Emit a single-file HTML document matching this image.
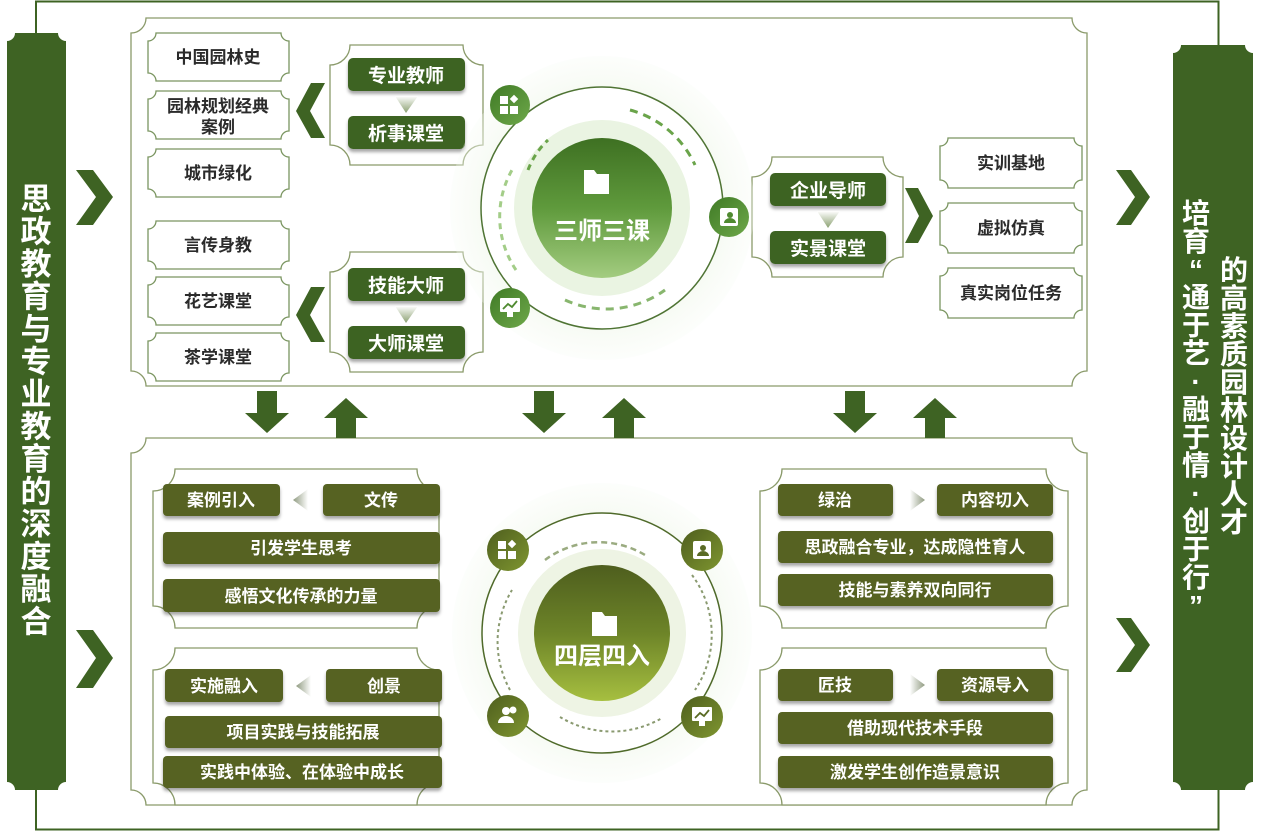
<!DOCTYPE html>
<html><head><meta charset="utf-8"><style>
html,body{margin:0;padding:0;background:#fff;}
svg{display:block;}
text{font-family:"Liberation Sans","Noto Sans CJK SC",sans-serif;font-weight:bold;}
.w{fill:#fff;font-size:17px;text-anchor:middle;}
.wl{fill:#fff;font-size:19px;text-anchor:middle;}
.d{fill:#2b2b2b;font-size:17px;text-anchor:middle;}
.bx{fill:#fff;stroke:#7a9560;stroke-width:1.3;}
.gp{fill:#fff;stroke:#8a9a6a;stroke-width:1.3;}
.pg{fill:#3e6323;}
.po{fill:#566223;}
</style></head><body>
<svg width="1264" height="831" viewBox="0 0 1264 831" xmlns="http://www.w3.org/2000/svg">
<defs>
<radialGradient id="glow" cx="0.5" cy="0.5" r="0.5"><stop offset="0.6" stop-color="#eef6e8"/><stop offset="1" stop-color="#f7fbf4" stop-opacity="0.3"/></radialGradient>
<linearGradient id="cg" x1="0" y1="0" x2="0" y2="1"><stop offset="0" stop-color="#3e7022"/><stop offset="0.5" stop-color="#5f9a3c"/><stop offset="1" stop-color="#a3cc80"/></linearGradient>
<linearGradient id="co" x1="0" y1="0" x2="0" y2="1"><stop offset="0" stop-color="#4e5e1e"/><stop offset="0.5" stop-color="#6d8428"/><stop offset="1" stop-color="#a6bf40"/></linearGradient>
<linearGradient id="ig" x1="0" y1="0" x2="1" y2="1"><stop offset="0" stop-color="#3f7a25"/><stop offset="1" stop-color="#6ea84a"/></linearGradient>
<linearGradient id="io" x1="0" y1="0" x2="1" y2="1"><stop offset="0" stop-color="#4e5e1e"/><stop offset="1" stop-color="#7f9630"/></linearGradient>
<linearGradient id="tri" x1="0" y1="0" x2="0" y2="1"><stop offset="0" stop-color="#fff"/><stop offset="1" stop-color="#8aa070"/></linearGradient>
<linearGradient id="trh" x1="0" y1="0" x2="1" y2="0"><stop offset="0" stop-color="#fff"/><stop offset="1" stop-color="#8f9a80"/></linearGradient>
<linearGradient id="trhl" x1="1" y1="0" x2="0" y2="0"><stop offset="0" stop-color="#fff"/><stop offset="1" stop-color="#8f9a80"/></linearGradient>
<filter id="sh" x="-10%" y="-20%" width="120%" height="150%"><feDropShadow dx="0" dy="3" stdDeviation="1.5" flood-color="#000" flood-opacity="0.35"/></filter>
</defs>

<path d="M36 34 V1.5 H1218.5 V829.5 H36 V790" fill="none" stroke="#3e6323" stroke-width="2"/>

<path d="M15 33 H58 A8 8 0 0 0 66 41 V782 A8 8 0 0 0 58 790 H15 A8 8 0 0 0 7 782 V41 A8 8 0 0 0 15 33Z" fill="#3e6323"/>
<text x="36" y="210" fill="#fff" font-size="31" text-anchor="middle">
<tspan x="36" dy="0">思</tspan><tspan x="36" dy="32.5">政</tspan><tspan x="36" dy="32.5">教</tspan><tspan x="36" dy="32.5">育</tspan><tspan x="36" dy="32.5">与</tspan><tspan x="36" dy="32.5">专</tspan><tspan x="36" dy="32.5">业</tspan><tspan x="36" dy="32.5">教</tspan><tspan x="36" dy="32.5">育</tspan><tspan x="36" dy="32.5">的</tspan><tspan x="36" dy="32.5">深</tspan><tspan x="36" dy="32.5">度</tspan><tspan x="36" dy="32.5">融</tspan><tspan x="36" dy="32.5">合</tspan></text>

<path d="M1181 45 H1245 A8 8 0 0 0 1253 53 V782 A8 8 0 0 0 1245 790 H1181 A8 8 0 0 0 1173 782 V53 A8 8 0 0 0 1181 45Z" fill="#3e6323"/>
<text fill="#fff" font-size="28" text-anchor="middle">
<tspan x="1196" y="223">培</tspan><tspan x="1196" dy="28">育</tspan><tspan x="1196" dy="28">“</tspan><tspan x="1196" dy="28">通</tspan><tspan x="1196" dy="28">于</tspan><tspan x="1196" dy="28">艺</tspan><tspan x="1196" dy="28">·</tspan><tspan x="1196" dy="28">融</tspan><tspan x="1196" dy="28">于</tspan><tspan x="1196" dy="28">情</tspan><tspan x="1196" dy="28">·</tspan><tspan x="1196" dy="28">创</tspan><tspan x="1196" dy="28">于</tspan><tspan x="1196" dy="28">行</tspan><tspan x="1196" dy="28">”</tspan></text>
<text fill="#fff" font-size="28" text-anchor="middle">
<tspan x="1234" y="280">的</tspan><tspan x="1234" dy="28">高</tspan><tspan x="1234" dy="28">素</tspan><tspan x="1234" dy="28">质</tspan><tspan x="1234" dy="28">园</tspan><tspan x="1234" dy="28">林</tspan><tspan x="1234" dy="28">设</tspan><tspan x="1234" dy="28">计</tspan><tspan x="1234" dy="28">人</tspan><tspan x="1234" dy="28">才</tspan></text>

<g fill="#3e6323">
<path d="M76 170 H93 L113 197 L93 225 H76 L96 197Z"/>
<path d="M76 630 H93 L113 658 L93 688 H76 L96 658Z"/>
<path d="M1116 170 H1131 L1150 197 L1131 225 H1116 L1135 197Z"/>
<path d="M1116 618 H1131 L1150 645 L1131 672 H1116 L1135 645Z"/>
</g>

<path class="gp" d="M146 18 H1072 A15 15 0 0 0 1087 33 V371 A15 15 0 0 0 1072 386 H146 A15 15 0 0 0 131 371 V33 A15 15 0 0 0 146 18Z"/>
<path class="gp" d="M146 438 H1072 A15 15 0 0 0 1087 453 V790 A15 15 0 0 0 1072 805 H146 A15 15 0 0 0 131 790 V453 A15 15 0 0 0 146 438Z"/>

<g fill="#3e6323">
<path d="M257 391 H277 V413 H289 L267 433 L245 413 H257Z"/>
<path d="M336 438 H356 V418 H368 L346 398 L324 418 H336Z"/>
<path d="M534 391 H554 V413 H566 L544 433 L522 413 H534Z"/>
<path d="M614 438 H634 V418 H646 L624 398 L602 418 H614Z"/>
<path d="M845 391 H865 V413 H877 L855 433 L833 413 H845Z"/>
<path d="M925 438 H945 V418 H957 L935 398 L913 418 H925Z"/>
</g>

<g>
<path class="bx" d="M156 33 H281 A8 8 0 0 0 289 41 V73 A8 8 0 0 0 281 81 H156 A8 8 0 0 0 148 73 V41 A8 8 0 0 0 156 33Z"/>
<path class="bx" d="M156 91 H281 A8 8 0 0 0 289 99 V131 A8 8 0 0 0 281 139 H156 A8 8 0 0 0 148 131 V99 A8 8 0 0 0 156 91Z"/>
<path class="bx" d="M156 149 H281 A8 8 0 0 0 289 157 V189 A8 8 0 0 0 281 197 H156 A8 8 0 0 0 148 189 V157 A8 8 0 0 0 156 149Z"/>
<path class="bx" d="M156 221 H281 A8 8 0 0 0 289 229 V261 A8 8 0 0 0 281 269 H156 A8 8 0 0 0 148 261 V229 A8 8 0 0 0 156 221Z"/>
<path class="bx" d="M156 277 H281 A8 8 0 0 0 289 285 V317 A8 8 0 0 0 281 325 H156 A8 8 0 0 0 148 317 V285 A8 8 0 0 0 156 277Z"/>
<path class="bx" d="M156 333 H281 A8 8 0 0 0 289 341 V373 A8 8 0 0 0 281 381 H156 A8 8 0 0 0 148 373 V341 A8 8 0 0 0 156 333Z"/>
</g>
<text class="d" x="218" y="63">中国园林史</text>
<text class="d" x="218" y="112">园林规划经典</text>
<text class="d" x="218" y="133">案例</text>
<text class="d" x="218" y="179">城市绿化</text>
<text class="d" x="218" y="251">言传身教</text>
<text class="d" x="218" y="307">花艺课堂</text>
<text class="d" x="218" y="363">茶学课堂</text>

<g fill="#3e6323">
<path d="M325 83 H311 L296 111 L311 138 H325 L310 111Z"/>
<path d="M325 287 H311 L296 315 L311 342 H325 L310 315Z"/>
<path d="M905 188 H918 L933 216 L918 243 H905 L919 216Z"/>
</g>

<path class="gp" d="M350 45 H463 A20 20 0 0 0 483 65 V145 A20 20 0 0 0 463 165 H350 A20 20 0 0 0 330 145 V65 A20 20 0 0 0 350 45Z"/>
<path class="gp" d="M350 252 H463 A20 20 0 0 0 483 272 V352 A20 20 0 0 0 463 372 H350 A20 20 0 0 0 330 352 V272 A20 20 0 0 0 350 252Z"/>
<path class="gp" d="M772 157 H883 A20 20 0 0 0 903 177 V257 A20 20 0 0 0 883 277 H772 A20 20 0 0 0 752 257 V177 A20 20 0 0 0 772 157Z"/>

<g filter="url(#sh)">
<rect class="pg" x="348" y="58" width="117" height="33" rx="5"/>
<rect class="pg" x="348" y="116" width="117" height="33" rx="5"/>
<rect class="pg" x="348" y="268" width="117" height="33" rx="5"/>
<rect class="pg" x="348" y="326" width="117" height="33" rx="5"/>
<rect class="pg" x="770" y="173" width="116" height="33" rx="5"/>
<rect class="pg" x="770" y="231" width="116" height="33" rx="5"/>
</g>
<path d="M395 96 H418 L406 113Z" fill="url(#tri)"/>
<path d="M395 306 H418 L406 323Z" fill="url(#tri)"/>
<path d="M817 211 H840 L828 228Z" fill="url(#tri)"/>
<text class="wl" x="406" y="82">专业教师</text>
<text class="wl" x="406" y="140">析事课堂</text>
<text class="wl" x="406" y="292">技能大师</text>
<text class="wl" x="406" y="350">大师课堂</text>
<text class="wl" x="828" y="197">企业导师</text>
<text class="wl" x="828" y="255">实景课堂</text>

<path class="bx" d="M948 138 H1074 A8 8 0 0 0 1082 146 V180 A8 8 0 0 0 1074 188 H948 A8 8 0 0 0 940 180 V146 A8 8 0 0 0 948 138Z"/>
<path class="bx" d="M948 203 H1074 A8 8 0 0 0 1082 211 V245 A8 8 0 0 0 1074 253 H948 A8 8 0 0 0 940 245 V211 A8 8 0 0 0 948 203Z"/>
<path class="bx" d="M948 268 H1074 A8 8 0 0 0 1082 276 V310 A8 8 0 0 0 1074 318 H948 A8 8 0 0 0 940 310 V276 A8 8 0 0 0 948 268Z"/>
<text class="d" x="1011" y="169">实训基地</text>
<text class="d" x="1011" y="234">虚拟仿真</text>
<text class="d" x="1011" y="299">真实岗位任务</text>

<circle cx="602" cy="208" r="152" fill="url(#glow)"/>
<circle cx="602" cy="208" r="121" fill="#fff" stroke="#4f7434" stroke-width="1.5"/>
<circle cx="602" cy="208" r="88" fill="#eaf4e2"/>
<circle cx="602" cy="208" r="70" fill="url(#cg)"/>
<path d="M528 170 A80 80 0 0 1 548 140" fill="none" stroke="#6aa44a" stroke-width="3" stroke-dasharray="6 5"/>
<path d="M516 270 A95 95 0 0 1 512 170" fill="none" stroke="#8cc06a" stroke-width="3" stroke-dasharray="6 5" opacity="0.8"/>
<path d="M630 110 A100 100 0 0 1 695 165" fill="none" stroke="#6aa44a" stroke-width="3" stroke-dasharray="8 6"/>
<path d="M565 300 A100 100 0 0 0 665 290" fill="none" stroke="#6aa44a" stroke-width="3" stroke-dasharray="8 6" opacity="0.8"/>
<path d="M584 170 h10 l3 4 h12 v20 h-25Z" fill="#fff"/>
<text x="602" y="239" fill="#fff" font-size="24" text-anchor="middle">三师三课</text>
<circle cx="510" cy="105" r="20" fill="url(#ig)"/>
<circle cx="729" cy="217" r="20" fill="url(#ig)"/>
<circle cx="510" cy="308" r="20" fill="url(#ig)"/>
<g fill="#fff"><rect x="500" y="96" width="8" height="8"/><rect x="500" y="106" width="8" height="8"/><rect x="510" y="106" width="8" height="8"/><rect x="511" y="96" width="6" height="6" transform="rotate(45 514 99)"/>
<rect x="720" y="208" width="18" height="18" rx="2"/>
<rect x="500" y="298" width="20" height="14" rx="1"/><rect x="507" y="312" width="6" height="5"/></g>
<circle cx="730" cy="215" r="3" fill="#4f8a30"/><path d="M724 223 a6 5 0 0 1 12 0Z" fill="#4f8a30"/>
<path d="M503 309 l5 -5 l4 3 l5 -6" stroke="#4f8a30" stroke-width="1.8" fill="none"/>

<path class="gp" d="M175 469 H417 A22 22 0 0 0 439 491 V606 A22 22 0 0 0 417 628 H175 A22 22 0 0 0 153 606 V491 A22 22 0 0 0 175 469Z"/>
<path class="gp" d="M175 648 H417 A22 22 0 0 0 439 670 V783 A22 22 0 0 0 417 805 H175 A22 22 0 0 0 153 783 V670 A22 22 0 0 0 175 648Z"/>
<path class="gp" d="M782 469 H1046 A22 22 0 0 0 1068 491 V606 A22 22 0 0 0 1046 628 H782 A22 22 0 0 0 760 606 V491 A22 22 0 0 0 782 469Z"/>
<path class="gp" d="M782 648 H1046 A22 22 0 0 0 1068 670 V783 A22 22 0 0 0 1046 805 H782 A22 22 0 0 0 760 783 V670 A22 22 0 0 0 782 648Z"/>

<g filter="url(#sh)">
<rect class="po" x="163" y="484" width="117" height="32" rx="4"/>
<rect class="po" x="323" y="484" width="117" height="32" rx="4"/>
<rect class="po" x="163" y="532" width="277" height="32" rx="4"/>
<rect class="po" x="163" y="579" width="277" height="33" rx="4"/>
<rect class="po" x="165" y="669" width="118" height="33" rx="4"/>
<rect class="po" x="326" y="669" width="116" height="33" rx="4"/>
<rect class="po" x="165" y="716" width="277" height="32" rx="4"/>
<rect class="po" x="163" y="756" width="279" height="32" rx="4"/>
<rect class="po" x="778" y="484" width="115" height="32" rx="4"/>
<rect class="po" x="937" y="484" width="116" height="32" rx="4"/>
<rect class="po" x="778" y="531" width="275" height="32" rx="4"/>
<rect class="po" x="778" y="574" width="275" height="32" rx="4"/>
<rect class="po" x="778" y="669" width="115" height="32" rx="4"/>
<rect class="po" x="937" y="669" width="116" height="32" rx="4"/>
<rect class="po" x="778" y="712" width="275" height="32" rx="4"/>
<rect class="po" x="778" y="756" width="275" height="32" rx="4"/>
</g>
<path d="M293 500 L308 489 V511Z" fill="url(#trhl)"/>
<path d="M296 686 L311 675 V697Z" fill="url(#trhl)"/>
<path d="M925 500 L910 489 V511Z" fill="url(#trh)"/>
<path d="M925 685 L910 674 V696Z" fill="url(#trh)"/>
<text class="w" x="221" y="506">案例引入</text>
<text class="w" x="381" y="506">文传</text>
<text class="w" x="301" y="554">引发学生思考</text>
<text class="w" x="301" y="602">感悟文化传承的力量</text>
<text class="w" x="224" y="692">实施融入</text>
<text class="w" x="384" y="692">创景</text>
<text class="w" x="303" y="738">项目实践与技能拓展</text>
<text class="w" x="302" y="778">实践中体验、在体验中成长</text>
<text class="w" x="835" y="506">绿治</text>
<text class="w" x="995" y="506">内容切入</text>
<text class="w" x="915" y="553">思政融合专业，达成隐性育人</text>
<text class="w" x="915" y="596">技能与素养双向同行</text>
<text class="w" x="835" y="691">匠技</text>
<text class="w" x="995" y="691">资源导入</text>
<text class="w" x="915" y="734">借助现代技术手段</text>
<text class="w" x="915" y="778">激发学生创作造景意识</text>

<circle cx="602" cy="633" r="150" fill="url(#glow)"/>
<circle cx="602" cy="633" r="120" fill="#fff" stroke="#4f6a2a" stroke-width="1.5"/>
<circle cx="602" cy="633" r="84" fill="#eef4e4"/>
<circle cx="602" cy="633" r="68" fill="url(#co)"/>
<path d="M545 560 A90 90 0 0 1 645 555" fill="none" stroke="#9aab80" stroke-width="2.5" stroke-dasharray="6 4"/>
<path d="M510 690 A100 100 0 0 1 512 590" fill="none" stroke="#8a9a70" stroke-width="2" stroke-dasharray="3 3"/>
<path d="M692 575 A100 100 0 0 1 695 690" fill="none" stroke="#8a9a70" stroke-width="2" stroke-dasharray="3 3"/>
<path d="M560 717 A100 100 0 0 0 662 718" fill="none" stroke="#8a9a70" stroke-width="2" stroke-dasharray="3 3"/>
<path d="M592 612 h10 l3 4 h12 v20 h-25Z" fill="#fff"/>
<text x="602" y="664" fill="#fff" font-size="24" text-anchor="middle">四层四入</text>
<circle cx="508" cy="550" r="21" fill="url(#io)"/>
<circle cx="702" cy="550" r="21" fill="url(#io)"/>
<circle cx="508" cy="716" r="21" fill="url(#io)"/>
<circle cx="702" cy="717" r="21" fill="url(#io)"/>
<g fill="#fff"><rect x="498" y="541" width="8" height="8"/><rect x="498" y="551" width="8" height="8"/><rect x="508" y="551" width="8" height="8"/><rect x="509" y="541" width="6" height="6" transform="rotate(45 512 544)"/>
<rect x="693" y="541" width="18" height="18" rx="2"/>
<circle cx="506" cy="711" r="4"/><path d="M498 723 a8 7 0 0 1 16 0Z"/><circle cx="513" cy="710" r="3.5"/>
<rect x="692" y="707" width="20" height="14" rx="1"/><rect x="699" y="721" width="6" height="5"/></g>
<circle cx="703" cy="548" r="3" fill="#5a6b25"/><path d="M697 556 a6 5 0 0 1 12 0Z" fill="#5a6b25"/>
<path d="M695 718 l5 -5 l4 3 l5 -6" stroke="#5a6b25" stroke-width="1.8" fill="none"/>
</svg>
</body></html>
